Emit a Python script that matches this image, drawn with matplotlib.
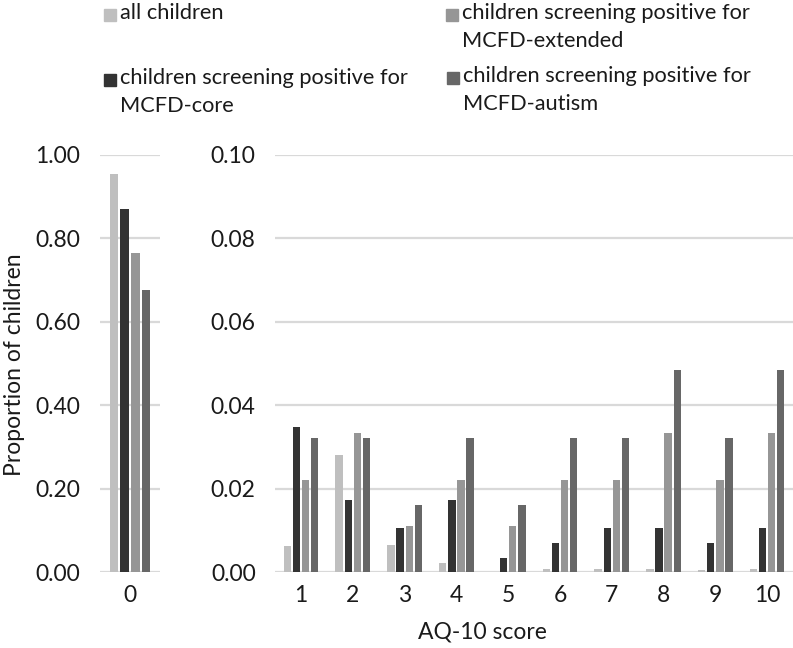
import matplotlib
matplotlib.use("Agg")
import matplotlib.pyplot as plt
import numpy as np
from matplotlib.patches import Rectangle

plt.rcParams['font.family'] = ['Lato', 'DejaVu Sans']

# AQ-10 scores
score_zero = ['0']
scores = ['1', '2', '3', '4', '5', '6', '7', '8', '9', '10']

series_names = ['all children',
                'children screening positive for\nMCFD-core',
                'children screening positive for\nMCFD-extended',
                'children screening positive for\nMCFD-autism']

# proportion of children with score 0
zero_all = [0.953]
zero_core = [0.870]
zero_ext = [0.766]
zero_autism = [0.677]

# proportion of children with scores 1..10
prop_all = [0.0062, 0.0281, 0.0065, 0.0023, 0.0, 0.0008, 0.0008, 0.0008, 0.0005, 0.0008]
prop_core = [0.0348, 0.0174, 0.0106, 0.0174, 0.0035, 0.0070, 0.0106, 0.0106, 0.0070, 0.0106]
prop_ext = [0.0222, 0.0333, 0.0111, 0.0222, 0.0111, 0.0222, 0.0222, 0.0333, 0.0222, 0.0333]
prop_autism = [0.0322, 0.0322, 0.0161, 0.0322, 0.0161, 0.0322, 0.0322, 0.0484, 0.0322, 0.0484]

colores = ['#bfbfbf', '#333333', '#969696', '#676767']

fig = plt.figure(figsize=(7.93, 6.48), dpi=100)
ax0 = fig.add_axes([0.126, 0.117, 0.076, 0.644])
ax1 = fig.add_axes([0.347, 0.117, 0.653, 0.644])

passo = 0.176
largura = 0.142
offsets = (np.arange(4) - 1.5) * passo


def desenha(ax, rotulos, grupos, ymax, fmt):
    x = np.arange(len(rotulos))
    for i, valores in enumerate(grupos):
        ax.bar(x + offsets[i], valores, width=largura, color=colores[i], zorder=3)
    ax.set_xlim(-0.5, len(rotulos) - 0.5)
    ax.set_ylim(0, ymax)
    ax.set_yticks(np.linspace(0, ymax, 6))
    ax.set_yticklabels([fmt.format(v) for v in np.linspace(0, ymax, 6)])
    ax.set_xticks(x)
    ax.set_xticklabels(rotulos)
    ax.yaxis.grid(True, color='#d9d9d9', linewidth=1.6, zorder=0)
    for s in ax.spines.values():
        s.set_visible(False)
    ax.tick_params(length=0, labelsize=16.5, colors='#1a1a1a')
    ax.tick_params(axis='y', pad=14)
    ax.tick_params(axis='x', pad=9)


desenha(ax0, score_zero, [zero_all, zero_core, zero_ext, zero_autism], 1.0, '{:.2f}')
desenha(ax1, scores, [prop_all, prop_core, prop_ext, prop_autism], 0.10, '{:.2f}')

fig.text(0.018, 0.437, 'Proportion of children', rotation=90, fontsize=16.5,
         ha='center', va='center', color='#1a1a1a')
fig.text(0.609, 0.008, 'AQ-10 score', fontsize=16.5, ha='center', va='bottom', color='#1a1a1a')

# legenda manual (posições em pixels)
pos_legenda = [(104, 9), (104, 74), (446, 9), (447, 72)]
W, H = 793, 648
for i, (px, py) in enumerate(pos_legenda):
    fig.patches.append(Rectangle((px / W, 1 - (py + 12) / H), 12 / W, 12 / H,
                                 transform=fig.transFigure, color=colores[i]))
    fig.text((px + 16) / W, 1 - (py - 6) / H, series_names[i], fontsize=15.7,
             va='top', ha='left', color='#1a1a1a', linespacing=1.5)

fig.savefig('out.png', dpi=100)
